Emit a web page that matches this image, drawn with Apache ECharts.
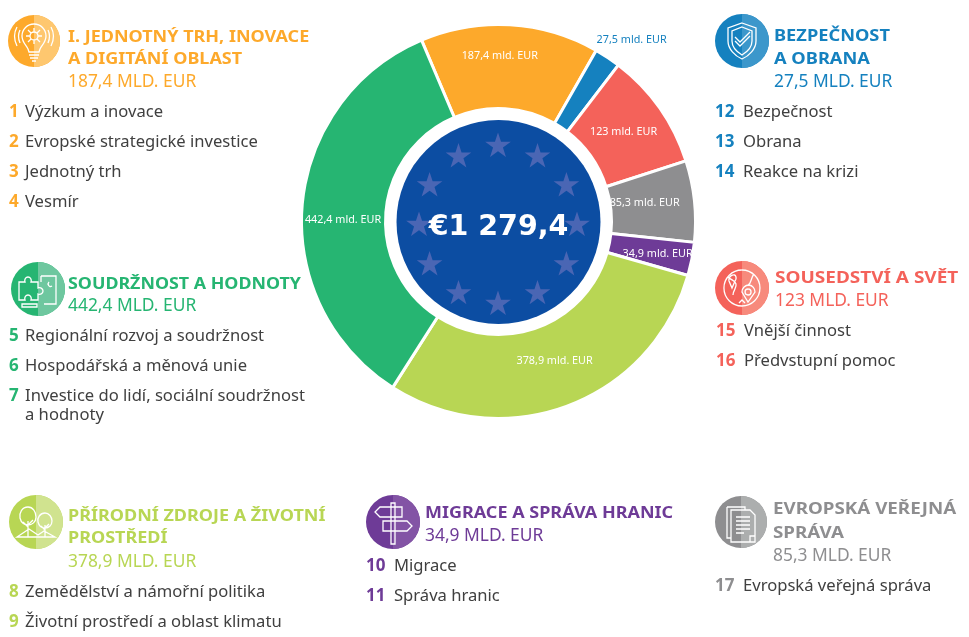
<!DOCTYPE html>
<html><head><meta charset="utf-8">
<style>html,body{margin:0;padding:0;background:#fff}#c{width:969px;height:637px}</style>
<script src="https://cdn.jsdelivr.net/npm/echarts@6/dist/echarts.min.js"></script>
</head><body><div id="c"></div>
<script>
const categories = ['I. Jednotný trh, inovace a digitání oblast','Bezpečnost a obrana','Sousedství a svět','Evropská veřejná správa','Migrace a správa hranic','Přírodní zdroje a životní prostředí','Soudržnost a hodnoty'];
const values = [187.4,27.5,123,85.3,34.9,378.9,442.4];
const sliceLabels = ['187,4 mld. EUR','27,5 mld. EUR','123 mld. EUR','85,3 mld. EUR','34,9 mld. EUR','378,9 mld. EUR','442,4 mld. EUR'];
const colors = ['#FDA92B','#1581BF','#F4625A','#8E8E90','#6E3B97','#B8D654','#26B572'];
const lightColors = ['#FEC76F','#3C97CB','#F78A7C','#ACAEAE','#8354A5','#D0E38F','#6EC79F'];
const totalLabel = '€1 279,4';
const headings = [['I. JEDNOTNÝ TRH, INOVACE','A DIGITÁNÍ OBLAST'],['BEZPEČNOST','A OBRANA'],['SOUSEDSTVÍ A SVĚT'],['EVROPSKÁ VEŘEJNÁ','SPRÁVA'],['MIGRACE A SPRÁVA HRANIC'],['PŘÍRODNÍ ZDROJE A ŽIVOTNÍ','PROSTŘEDÍ'],['SOUDRŽNOST A HODNOTY']];
const amounts = ['187,4 MLD. EUR','27,5 MLD. EUR','123 MLD. EUR','85,3 MLD. EUR','34,9 MLD. EUR','378,9 MLD. EUR','442,4 MLD. EUR'];
const itemNumbers = [['1','2','3','4'],['12','13','14'],['15','16'],['17'],['10','11'],['8','9'],['5','6','7']];
const itemTexts = [['Výzkum a inovace','Evropské strategické investice','Jednotný trh','Vesmír'],['Bezpečnost','Obrana','Reakce na krizi'],['Vnější činnost','Předvstupní pomoc'],['Evropská veřejná správa'],['Migrace','Správa hranic'],['Zemědělství a námořní politika','Životní prostředí a oblast klimatu'],['Regionální rozvoj a soudržnost','Hospodářská a měnová unie','Investice do lidí, sociální soudržnost\na hodnoty']];

/* layout of the side blocks: icon centre, heading x, heading stretch, heading ys, amount y, number x, text x, item ys */
const blockLayout = [
 {ic:[34,41],r:26,hx:68,hs:1.09,hy:[36,58],ay:81,nx:9,tx:25,iy:[111,141,171,201]},
 {ic:[742,41],r:27,hx:774,hs:1.105,hy:[35,58],ay:81,nx:715,tx:743,iy:[111,141,171]},
 {ic:[742,288],r:27,hx:775,hs:1.15,hy:[277],ay:300,nx:716,tx:744,iy:[330,360]},
 {ic:[741,522],r:26,hx:773,hs:1.137,hy:[508,532],ay:555,nx:715,tx:743,iy:[585]},
 {ic:[393,522],r:27,hx:425,hs:1.09,hy:[512],ay:535,nx:366,tx:394,iy:[565,595]},
 {ic:[36,522],r:27,hx:68,hs:1.09,hy:[515,537],ay:561,nx:9,tx:25,iy:[591,621]},
 {ic:[38,289],r:27,hx:68,hs:1.08,hy:[283],ay:305,nx:9,tx:25,iy:[335,365,395]}
];
const iconPaths = [
 'M21 35C19 31 15 28 15 22A12 12 0 0 1 39 22C39 28 35 31 33 35L32 38L22 38ZM22 41L32 41M23 44L31 44M25 47L29 47M31 22A4 4 0 1 1 23 22A4 4 0 1 1 31 22M27 14L27 18M27 26L27 30M19 22L23 22M31 22L35 22M21 16L24 19M33 16L30 19M21 28L24 25M33 28L30 25M10 13Q5 22 10 32M44 13Q49 22 44 32M13 16Q10 22 13 29M41 16Q44 22 41 29',
 'M27 9L41 14L41 27C41 35 34 42 27 45C20 42 13 35 13 27L13 14ZM27 13L37 17L37 27C37 33 32 38 27 41C22 38 17 33 17 27L17 17ZM20 27L25 32L35 22M20 23L25 28L35 18',
 'M27 9A18 18 0 1 1 26.9 9M13 16C17 20 20 19 21 23C22 27 18 29 18 34M39 13C35 18 37 22 33 24M20 14A5 5 0 0 0 14 20L17 27L20 20A5 5 0 0 0 20 14M34 24A7 7 0 0 0 27 31L33 41L40 31A7 7 0 0 0 34 24M33 28A3 3 0 1 0 33.1 28M24 42L27 39L30 42',
 'M13 12L31 12L31 15M13 12L13 43L17 43M17 15L36 15L41 20L41 47L17 47ZM22 22L36 22M22 26L36 26M22 30L36 30M22 34L36 34M22 38L30 38M36 47L36 41L41 41',
 'M25 8L29 8L29 49L25 49ZM14 12L36 12L36 22L14 22L9 17ZM17 26L41 26L46 31L41 36L17 36Z',
 'M8 42L20 34L29 40L35 36L46 42ZM19 42L19 26M19 32L14 27M19 30L24 25M19 12C13 12 10 18 11 23C12 28 16 30 19 30C23 30 27 27 27 22C27 17 24 12 19 12M36 42L36 30M36 35L32 31M36 33L40 29M36 18C31 18 28 23 29 27C30 31 33 33 36 33C40 33 43 30 43 26C43 22 40 18 36 18',
 'M8 20L14 20C13 17 15 15 17 15C19 15 21 17 20 20L27 20L27 26C30 25 32 27 32 29C32 31 30 33 27 32L27 38L20 38C21 35 19 33 17 33C15 33 13 35 14 38L8 38ZM30 14L45 14L45 42L33 42M30 14L30 20M38 20C36 22 38 26 41 24M11 42L26 42L26 45L11 45Z'
];
iconPaths.forEach((p,i)=>echarts.graphic.registerShape('icon'+i, echarts.graphic.extendPath(p,{})));
const labelOffsets = [[-8,-8],[-19,-16],[-4,2],[-11,-2],[4,2],[0,-8],[2,12]];

const graphics = [];
const chartCentre = [498.5,221.5];
graphics.push({type:'circle',z:10,shape:{cx:498.5,cy:222,r:102},style:{fill:'#0C4DA2'}});
for (let i=0;i<12;i++){
  const a=i*Math.PI/6, cx=498+79*Math.sin(a), cy=225-79*Math.cos(a), pts=[];
  for (let k=0;k<10;k++){const rr=k%2?5.2:13.5,b=k*Math.PI/5;pts.push([cx+rr*Math.sin(b),cy-rr*Math.cos(b)]);}
  graphics.push({type:'polygon',z:11,shape:{points:pts},style:{fill:'#4A66B4'}});
}
graphics.push({type:'text',z:12,style:{text:totalLabel,x:498.5,y:228,align:'center',verticalAlign:'middle',font:'bold 28.5px "DejaVu Sans"',fill:'#fff'}});
const txt=(t,x,y,font,fill,sx)=>graphics.push({type:'text',z:12,x,y:y+1,scaleX:sx||1,style:{text:t,x:0,y:0,verticalAlign:'middle',font,fill}});
const headF='bold 16.5px "Noto Sans"', amtF='17.4px "Noto Sans"', numF='bold 17px "Noto Sans"', itemF='16.6px "Noto Sans"';
blockLayout.forEach((b,i)=>{
  graphics.push({type:'circle',z:10,shape:{cx:b.ic[0],cy:b.ic[1],r:b.r},style:{fill:colors[i]}});
  graphics.push({type:'sector',z:10,shape:{cx:b.ic[0],cy:b.ic[1],r:b.r,r0:0,startAngle:-Math.PI/2,endAngle:Math.PI/2},style:{fill:lightColors[i]}});
  graphics.push({type:'icon'+i,z:11,x:b.ic[0]-27,y:b.ic[1]-27,style:{fill:'none',stroke:'#fff',lineWidth:1.3}});
  headings[i].forEach((h,k)=>txt(h,b.hx,b.hy[k],headF,colors[i],b.hs));
  txt(amounts[i],b.hx,b.ay,amtF,colors[i]);
  itemNumbers[i].forEach((n,k)=>{
    txt(n,b.nx,b.iy[k],numF,colors[i]);
    const parts=itemTexts[i][k].split('\n');
    parts.forEach((p,m)=>txt(p,b.tx,b.iy[k]+m*19,itemF,'#404040'));
  });
});

const chart=echarts.init(document.getElementById('c'),null,{renderer:'canvas'});
chart.setOption({
  animation:false,
  color:colors,
  series:[{
    type:'pie',center:chartCentre,radius:[113,197],startAngle:113,clockwise:true,silent:true,
    itemStyle:{borderColor:'#fff',borderWidth:3},
    label:{show:true,position:'inside',color:'#fff',fontFamily:'Noto Sans',fontSize:10.8,formatter:p=>sliceLabels[p.dataIndex]},
    labelLine:{show:false},
    labelLayout:p=>({dx:labelOffsets[p.dataIndex][0],dy:labelOffsets[p.dataIndex][1]}),
    data:categories.map((name,i)=>({name,value:values[i],
      label:i===1?{position:'outside',color:colors[1]}:undefined,
      labelLine:i===1?{show:false,length:2,length2:2}:undefined}))
  }],
  graphic:{elements:graphics}
});
</script></body></html>
